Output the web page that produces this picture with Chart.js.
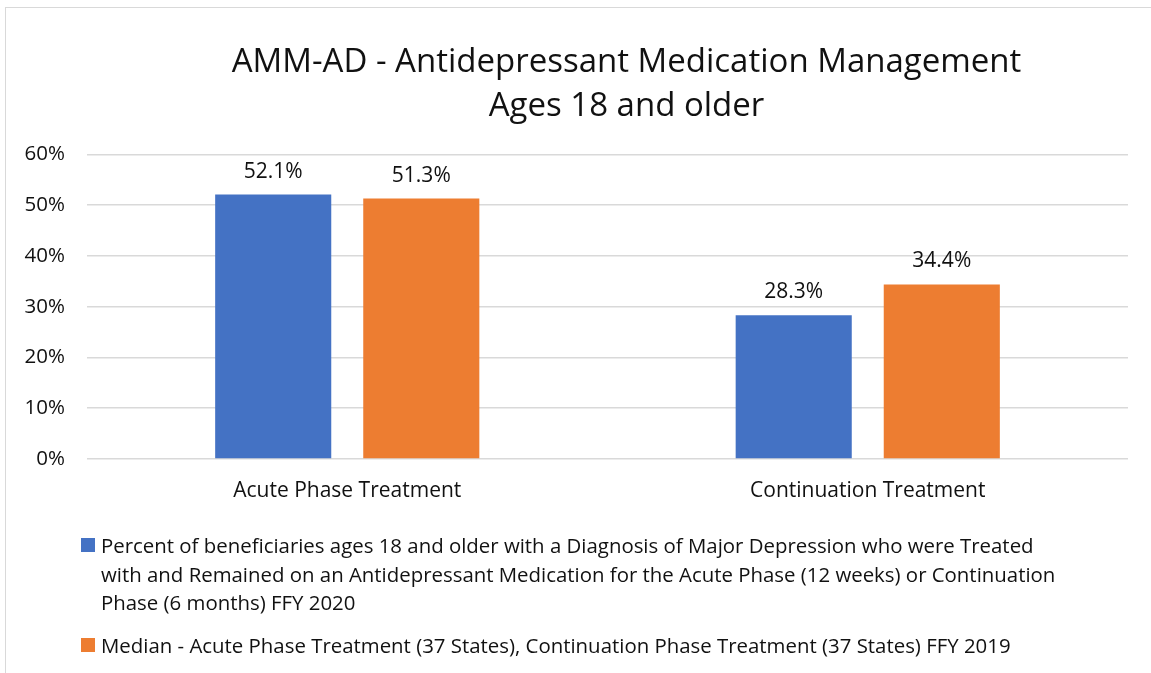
<!DOCTYPE html>
<html>
<head>
<meta charset="utf-8">
<script src="https://cdn.jsdelivr.net/npm/chart.js@4.4.0/dist/chart.umd.min.js"></script>
<style>
  html, body { margin: 0; padding: 0; background: #fff; overflow: hidden; }
  #frame { position: absolute; left: 5px; top: 7px; width: 1250px; height: 700px; border: 1.5px solid #d9d9d9; box-sizing: border-box; }
  #wrap { position: absolute; left: 0; top: 0; width: 1247px; height: 673px; }
  #legend { position: absolute; left: 81px; top: 531px; font-family: "Open Sans", sans-serif; font-size: 20.4px; color: #111; }
  .item { display: flex; align-items: flex-start; line-height: 28.5px; margin-bottom: 14px; }
  .box { width: 14px; height: 14px; flex: none; margin-right: 6px; margin-top: 7px; }
</style>
</head>
<body>
<div id="frame"></div>
<div id="wrap"><canvas id="chart" width="1247" height="673"></canvas></div>
<div id="legend"></div>
<script>
const categories = ["Acute Phase Treatment", "Continuation Treatment"];
const stateValues = [52.1, 28.3];
const medianValues = [51.3, 34.4];
const seriesNames = [
  ["Percent of beneficiaries ages 18 and older with a Diagnosis of Major Depression who were Treated",
   "with and Remained on an Antidepressant Medication for the Acute Phase (12 weeks) or Continuation",
   "Phase (6 months) FFY 2020"],
  ["Median - Acute Phase Treatment (37 States), Continuation Phase Treatment (37 States) FFY 2019"]
];
const yTicks = [0, 10, 20, 30, 40, 50, 60];
const titleLines = ["AMM-AD - Antidepressant Medication Management", "Ages 18 and older"];

const FONT = "'Open Sans', sans-serif";

// value labels over the bars
const barLabels = {
  id: "barLabels",
  afterDatasetsDraw(chart) {
    const ctx = chart.ctx;
    ctx.save();
    ctx.font = "21px " + FONT;
    ctx.fillStyle = "#111";
    ctx.textAlign = "center";
    ctx.textBaseline = "alphabetic";
    chart.data.datasets.forEach((ds, i) => {
      chart.getDatasetMeta(i).data.forEach((bar, j) => {
        ctx.fillText(ds.data[j].toFixed(1) + "%", bar.x, bar.y - 17);
      });
    });
    ctx.restore();
  }
};

const chart = new Chart(document.getElementById("chart"), {
  type: "bar",
  data: {
    labels: categories,
    datasets: [
      { label: seriesNames[0].join(" "), data: stateValues, backgroundColor: "#4472C4" },
      { label: seriesNames[1].join(" "), data: medianValues, backgroundColor: "#ED7D31" }
    ]
  },
  options: {
    responsive: false,
    animation: false,
    layout: { padding: { left: 6, right: 0, top: 0, bottom: 164 } },
    categoryPercentage: 0.569,
    barPercentage: 0.784,
    plugins: {
      legend: { display: false },
      tooltip: { enabled: false },
      title: {
        display: true,
        text: titleLines,
        color: "#111",
        font: { family: FONT, size: 33, weight: "normal", lineHeight: 1.34 },
        padding: { top: 40, bottom: 26 }
      }
    },
    scales: {
      x: {
        grid: { display: false, drawTicks: false },
        border: { display: false },
        ticks: { color: "#111", font: { family: FONT, size: 21 }, padding: 19 },
        afterFit(s) { s.height = 50; }
      },
      y: {
        min: 0, max: 60,
        afterBuildTicks(s) { s.ticks = yTicks.map(v => ({ value: v })); },
        grid: { color: "#d9d9d9", lineWidth: 1.5, drawTicks: false },
        border: { display: false },
        ticks: { color: "#111", font: { family: FONT, size: 20.5 }, padding: 22, callback: v => v + "%" },
        afterFit(s) { s.width = 81; }
      },
      // empty right-hand space so the chart area ends where the reference's does
      yRight: {
        position: "right",
        grid: { display: false, drawTicks: false },
        border: { display: false },
        ticks: { display: false },
        afterFit(s) { s.width = 119; }
      }
    }
  },
  plugins: [barLabels]
});

// legend with wrapped lines, built from the datasets
const legend = document.getElementById("legend");
chart.data.datasets.forEach((ds, i) => {
  const item = document.createElement("div");
  item.className = "item";
  const box = document.createElement("span");
  box.className = "box";
  box.style.background = ds.backgroundColor;
  const txt = document.createElement("span");
  txt.innerHTML = seriesNames[i].join("<br>");
  item.appendChild(box);
  item.appendChild(txt);
  legend.appendChild(item);
});
</script>
</body>
</html>
